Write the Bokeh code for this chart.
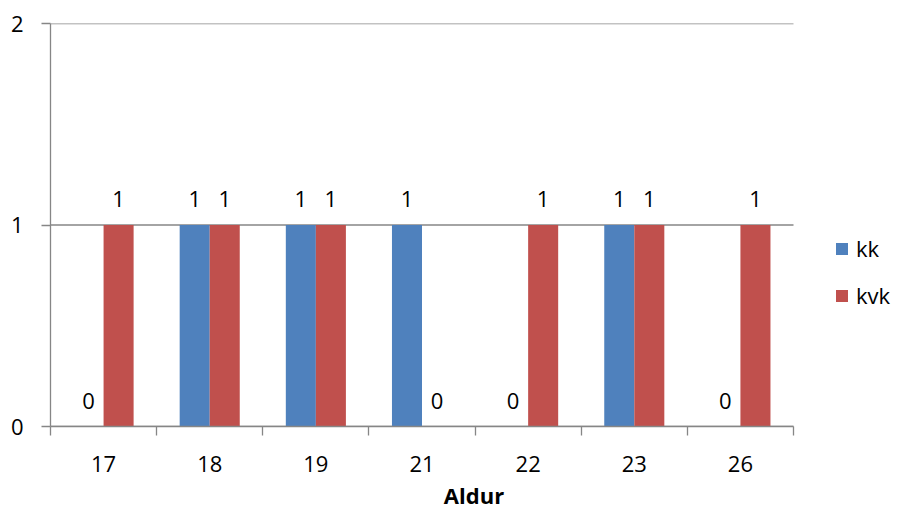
from bokeh.plotting import figure
from bokeh.models import (ColumnDataSource, Range1d, LinearAxis, FixedTicker,
                          Legend, LegendItem)
from bokeh.transform import dodge
from bokeh.core.properties import value
from bokeh.embed import file_html
from bokeh.resources import INLINE

ages = ["17", "18", "19", "21", "22", "23", "26"]
kk = [0, 1, 1, 1, 0, 1, 0]
kvk = [1, 1, 1, 0, 1, 1, 1]
series_names = ["kk", "kvk"]
colors = ["#4F81BD", "#C0504D"]
y_ticks = [0, 1, 2]

FONT = "Open Sans"
FS = "22px"
GRAY = "#868686"

n = len(ages)
centers = [i + 0.5 for i in range(n)]
edges = list(range(n + 1))

# layout: category area 743 px wide, frame extended right to host the legend
W, H = 897, 512
LEFT, RIGHT_PAD = 50, 0
frame_w = W - LEFT - RIGHT_PAD
cat_w = 743
x_end = n * frame_w / cat_w

src = ColumnDataSource(dict(pos=centers, kk=kk, kvk=kvk,
                            kk_lbl=[str(v) for v in kk], kvk_lbl=[str(v) for v in kvk]))
grid_src = ColumnDataSource(dict(x0=[0] * len(y_ticks), x1=[n] * len(y_ticks), y=y_ticks))

p = figure(width=W, height=H, x_range=Range1d(0, x_end),
           y_range=Range1d(0, 2), output_backend="svg", toolbar_location=None,
           x_axis_location=None, y_axis_location=None,
           min_border_left=LEFT, min_border_right=RIGHT_PAD, min_border_top=23,
           min_border_bottom=85)
p.outline_line_color = None
p.xgrid.visible = False
p.ygrid.visible = False

# horizontal gridlines limited to the category area
p.segment(x0="x0", x1="x1", y0="y", y1="y", source=grid_src,
          line_color=GRAY, line_width=1.3)

bw = 0.283
r1 = p.vbar(x=dodge("pos", -bw / 2), top="kk", width=bw, source=src,
            fill_color=colors[0], line_color=None)
r2 = p.vbar(x=dodge("pos", bw / 2), top="kvk", width=bw, source=src,
            fill_color=colors[1], line_color=None)

for col, off in (("kk", -bw / 2), ("kvk", bw / 2)):
    p.text(x=dodge("pos", off), y=col, text=col + "_lbl", source=src,
           text_font=value(FONT), text_font_size=FS, text_color="black",
           text_align="center", text_baseline="alphabetic", y_offset=-26)

# y axis
yax = LinearAxis(ticker=FixedTicker(ticks=y_ticks))
yax.axis_line_color = GRAY
yax.axis_line_width = 1.3
yax.major_tick_line_color = GRAY
yax.major_tick_line_width = 1.3
yax.major_tick_out = 9
yax.major_tick_in = 0
yax.minor_tick_line_color = None
yax.major_label_standoff = 18
yax.major_label_text_font = FONT
yax.major_label_text_font_size = FS
yax.major_label_text_color = "black"
p.add_layout(yax, "left")

# x axis: boundary ticks (minor) and centred category labels (major)
xax = LinearAxis(ticker=FixedTicker(ticks=centers, minor_ticks=edges), bounds=(0, n))
xax.major_label_overrides = {c: a for c, a in zip(centers, ages)}
xax.axis_line_color = GRAY
xax.axis_line_width = 1.3
xax.major_tick_line_color = None
xax.major_tick_out = 0
xax.major_tick_in = 0
xax.minor_tick_line_color = GRAY
xax.minor_tick_line_width = 1.3
xax.minor_tick_out = 9
xax.minor_tick_in = 0
xax.major_label_standoff = 20
xax.major_label_text_font = FONT
xax.major_label_text_font_size = FS
xax.major_label_text_color = "black"
xax.axis_label = "Aldur"
xax.axis_label_text_font = FONT
xax.axis_label_text_font_size = FS
xax.axis_label_text_font_style = "bold"
xax.axis_label_text_color = "black"
xax.axis_label_standoff = 5
p.add_layout(xax, "below")

legend = Legend(items=[LegendItem(label=series_names[0], renderers=[r1]),
                       LegendItem(label=series_names[1], renderers=[r2])],
                location=(784, 116), orientation="vertical")
legend.glyph_width = 15
legend.glyph_height = 15
legend.label_height = 15
legend.label_standoff = 7
legend.spacing = 17
legend.padding = 0
legend.margin = 0
legend.border_line_color = None
legend.background_fill_alpha = 0
legend.label_text_font = FONT
legend.label_text_font_size = FS
legend.label_text_color = "black"
p.add_layout(legend, "center")

open("out.html", "w").write(file_html(p, INLINE))
